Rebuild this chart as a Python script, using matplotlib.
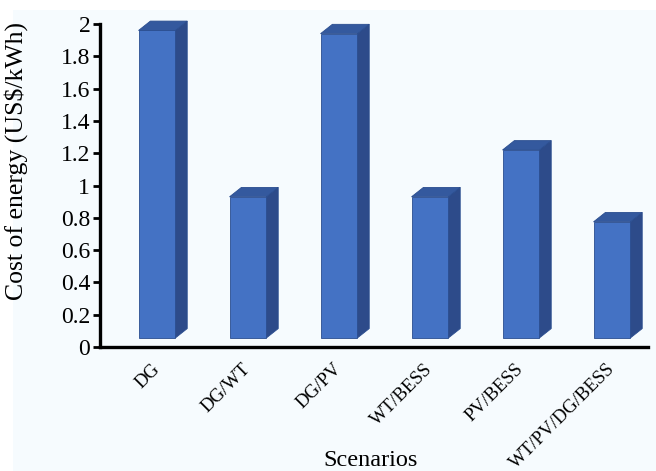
import numpy as np
import matplotlib.pyplot as plt
from matplotlib.patches import Polygon, Rectangle

plt.rcParams['font.family'] = ['Liberation Serif', 'DejaVu Serif']

scenarios = ['DG', 'DG/WT', 'DG/PV', 'WT/BESS', 'PV/BESS', 'WT/PV/DG/BESS']
coe = np.array([1.96, 0.93, 1.94, 0.93, 1.22, 0.775])
yticks = [0, 0.2, 0.4, 0.6, 0.8, 1, 1.2, 1.4, 1.6, 1.8, 2]
ytick_labels = ['0', '0.2', '0.4', '0.6', '0.8', '1', '1.2', '1.4', '1.6', '1.8', '2']

front_col = '#4472c4'
side_col = '#2d4b8a'
top_col = '#34599e'
edge_col = '#2a4d8f'

fig = plt.figure(figsize=(6.56, 4.71), dpi=100)
fig.patch.set_facecolor('white')
# light tinted panel behind the chart
fig.patches.append(Rectangle((13 / 656, 0), 1, 1 - 10 / 471, transform=fig.transFigure,
                             facecolor='#f6fbfe', edgecolor='none', zorder=-10))

ax = fig.add_axes([100 / 656, 1 - 347 / 471, 548 / 656, 323 / 471])
ax.set_facecolor('none')

x = np.arange(len(scenarios))
w = 0.405
dx, dy = 0.13, 0.058   # depth offset of the 3d boxes
floor = 0.056

ax.bar(x, coe - floor, bottom=floor, width=w, color=front_col,
       edgecolor=edge_col, linewidth=0.6, zorder=3)
for xi, v in zip(x, coe):
    r = xi + w / 2
    l = xi - w / 2
    side = Polygon([(r, floor), (r + dx, floor + dy), (r + dx, v + dy), (r, v)],
                   closed=True, facecolor=side_col, edgecolor=edge_col,
                   linewidth=0.6, zorder=2, clip_on=False)
    top = Polygon([(l, v), (r, v), (r + dx, v + dy), (l + dx, v + dy)],
                  closed=True, facecolor=top_col, edgecolor=edge_col,
                  linewidth=0.6, zorder=2, clip_on=False)
    ax.add_patch(side)
    ax.add_patch(top)

ax.set_xlim(-0.626, 5.396)
ax.set_ylim(0, 2)

ax.set_yticks(yticks)
ax.set_yticklabels(ytick_labels, fontsize=17)
ax.tick_params(axis='y', direction='out', length=5, width=2, pad=2)

ax.set_xticks(x)
ax.set_xticklabels(scenarios, fontsize=13.5, rotation=45, ha='right',
                   va='center', rotation_mode='anchor')
ax.tick_params(axis='x', length=0, pad=14)

for s in ['top', 'right']:
    ax.spines[s].set_visible(False)
ax.spines['left'].set_linewidth(2.4)
ax.spines['bottom'].set_linewidth(2.4)

ax.set_ylabel('Cost of energy (US$/kWh)', fontsize=18.5)
ax.yaxis.set_label_coords(-0.131, 0.576)
ax.set_xlabel('Scenarios', fontsize=17.5)
ax.xaxis.set_label_coords(0.493, -0.318)

fig.savefig('out.png', dpi=100)
